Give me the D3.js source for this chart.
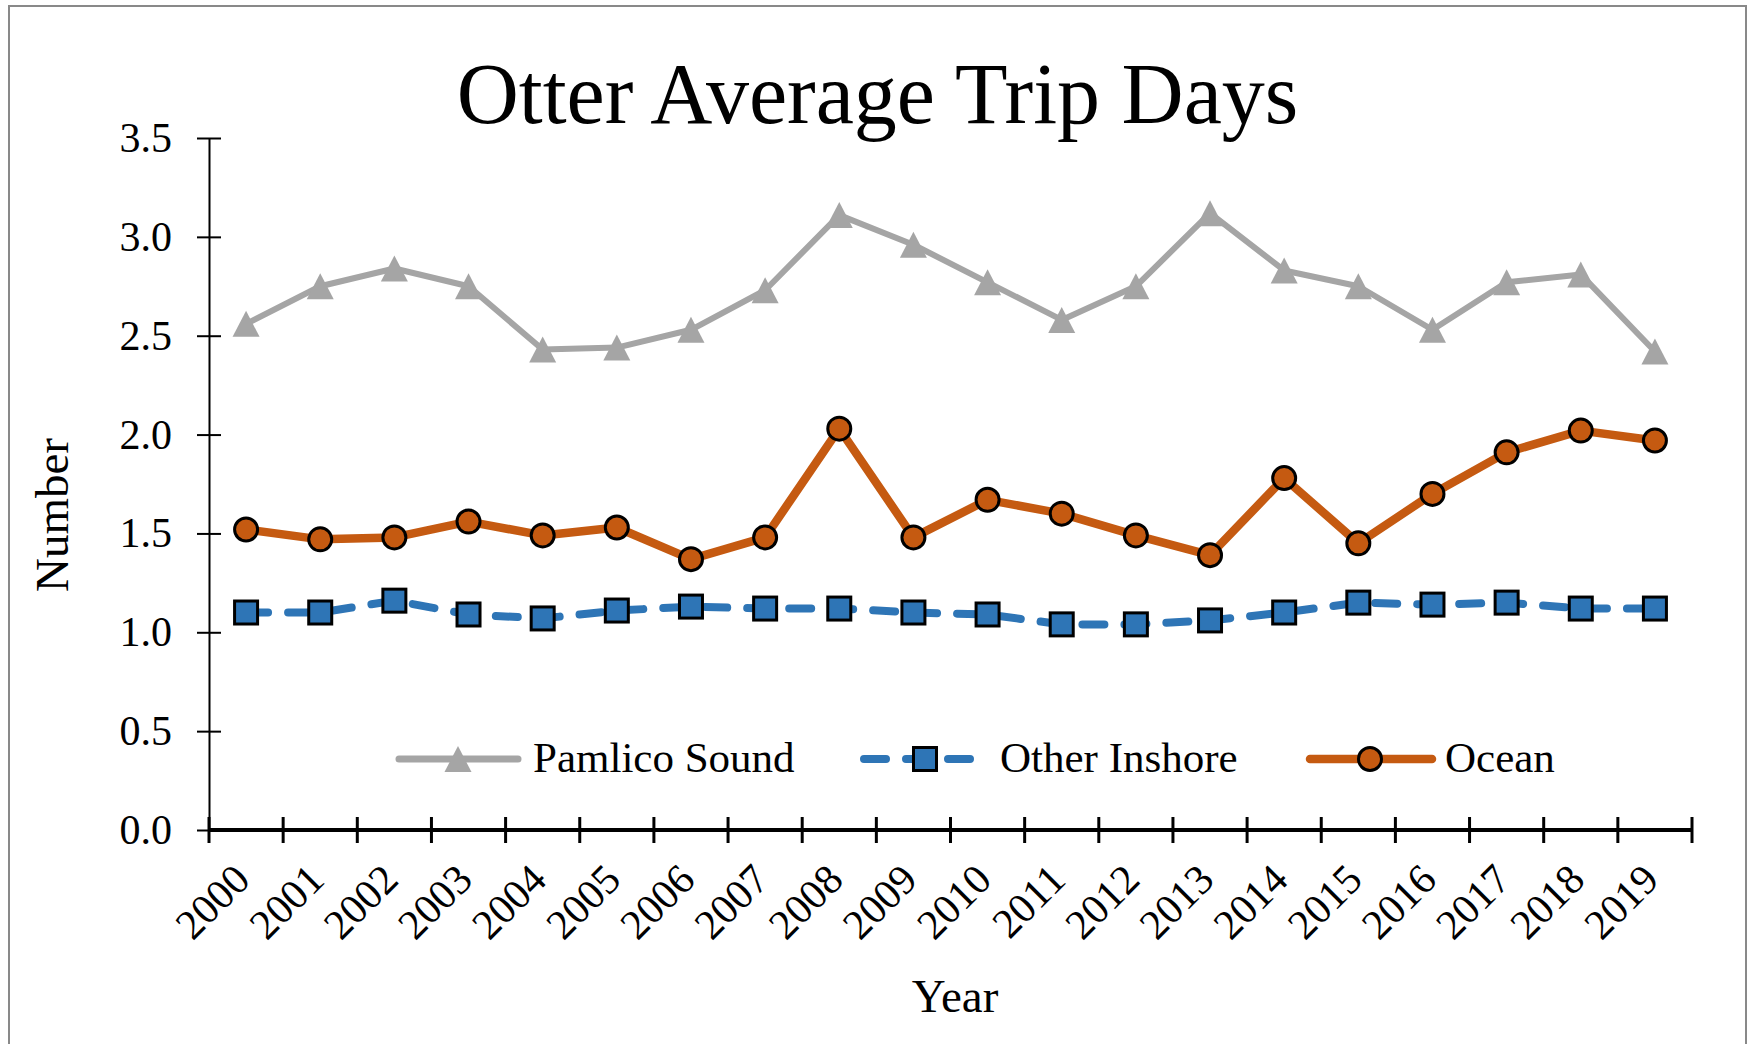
<!DOCTYPE html>
<html>
<head>
<meta charset="utf-8">
<script src="https://d3js.org/d3.v7.min.js"></script>
<style>
  body { margin: 0; background: #fff; }
  svg { display: block; }
</style>
</head>
<body>
<svg id="chart" width="1753" height="1044"></svg>

<script>
// Data
const years = ["2000","2001","2002","2003","2004","2005","2006","2007","2008","2009",
               "2010","2011","2012","2013","2014","2015","2016","2017","2018","2019"];

const pamlico = [2.56, 2.75, 2.84, 2.75, 2.43, 2.44, 2.53, 2.73, 3.11, 2.96,
                 2.77, 2.58, 2.75, 3.12, 2.83, 2.75, 2.53, 2.77, 2.81, 2.42];

const otherInshore = [1.10, 1.10, 1.16, 1.09, 1.07, 1.11, 1.13, 1.12, 1.12, 1.10,
                      1.09, 1.04, 1.04, 1.06, 1.10, 1.15, 1.14, 1.15, 1.12, 1.12];

const ocean = [1.52, 1.47, 1.48, 1.56, 1.49, 1.53, 1.37, 1.48, 2.03, 1.48,
               1.67, 1.60, 1.49, 1.39, 1.78, 1.45, 1.70, 1.91, 2.02, 1.97];

const yTicks = [0, 0.5, 1.0, 1.5, 2.0, 2.5, 3.0, 3.5];
const seriesNames = ["Pamlico Sound", "Other Inshore", "Ocean"];

const font = "'Liberation Serif', 'Times New Roman', serif";
const gray = "#A5A5A5", blue = "#2E75B6", orange = "#C55A11";

const svg = d3.select("#chart");

// frame
svg.append("rect")
  .attr("x", 9).attr("y", 6)
  .attr("width", 1737).attr("height", 1100)
  .attr("fill", "#fff")
  .attr("stroke", "#898989")
  .attr("stroke-width", 2);

// scales
const x = d3.scaleBand().domain(years).range([209, 1692]);
const y = d3.scaleLinear().domain([0, 3.5]).range([830, 138]);
const cx = function(d, i) { return x(years[i]) + x.bandwidth() / 2; };

// title
svg.append("text")
  .attr("x", 877.5).attr("y", 123)
  .attr("text-anchor", "middle")
  .style("font-family", font).style("font-size", "86px")
  .text("Otter Average Trip Days");

// Y axis
const yAxis = svg.append("g")
  .attr("transform", "translate(209,0)")
  .call(d3.axisLeft(y).tickValues(yTicks).tickFormat(d3.format(".1f")).tickSize(0).tickPadding(37));
yAxis.select(".domain").attr("stroke", "#000").attr("stroke-width", 2);
yAxis.selectAll(".tick")
  .append("line")
  .attr("x1", -12).attr("x2", 12)
  .attr("stroke", "#000").attr("stroke-width", 2);
yAxis.selectAll(".tick text")
  .style("font-family", font).style("font-size", "42px")
  .attr("fill", "#000");

// X axis (ticks between categories)
const xAxis = svg.append("g");
const bounds = years.map(function(yr) { return x(yr); }).concat([x.range()[1]]);
xAxis.append("line")
  .attr("x1", x.range()[0]).attr("x2", x.range()[1])
  .attr("y1", y(0)).attr("y2", y(0))
  .attr("stroke", "#000").attr("stroke-width", 4);
xAxis.selectAll(".xtick")
  .data(bounds).enter()
  .append("line")
  .attr("x1", function(d) { return d; }).attr("x2", function(d) { return d; })
  .attr("y1", y(0) - 13).attr("y2", y(0) + 13)
  .attr("stroke", "#000").attr("stroke-width", 3);
xAxis.selectAll(".xlabel")
  .data(years).enter()
  .append("text")
  .attr("transform", function(d) {
    return "translate(" + (x(d) + x.bandwidth() / 2 + 6) + "," + (y(0) + 52) + ") rotate(-45)";
  })
  .attr("text-anchor", "end")
  .style("font-family", font).style("font-size", "42px")
  .text(function(d) { return d; });

// axis titles
svg.append("text")
  .attr("transform", "translate(68,515) rotate(-90)")
  .attr("text-anchor", "middle")
  .style("font-family", font).style("font-size", "47px")
  .text("Number");

svg.append("text")
  .attr("x", 955).attr("y", 1012)
  .attr("text-anchor", "middle")
  .style("font-family", font).style("font-size", "47px")
  .text("Year");

// lines
const line = d3.line()
  .x(cx)
  .y(function(d) { return y(d); });

svg.append("path")
  .datum(pamlico)
  .attr("d", line)
  .attr("fill", "none").attr("stroke", gray)
  .attr("stroke-width", 6).attr("stroke-linejoin", "round");

svg.append("path")
  .datum(otherInshore)
  .attr("d", line)
  .attr("fill", "none").attr("stroke", blue)
  .attr("stroke-width", 8).attr("stroke-linecap", "round")
  .attr("stroke-dasharray", "22,20");

svg.append("path")
  .datum(ocean)
  .attr("d", line)
  .attr("fill", "none").attr("stroke", orange)
  .attr("stroke-width", 8.5).attr("stroke-linejoin", "round");

// markers
const tri = "M0,-13L13.5,13L-13.5,13Z";

svg.append("g").selectAll("path")
  .data(pamlico).enter()
  .append("path")
  .attr("d", tri)
  .attr("transform", function(d, i) { return "translate(" + cx(d, i) + "," + y(d) + ")"; })
  .attr("fill", gray);

svg.append("g").selectAll("rect")
  .data(otherInshore).enter()
  .append("rect")
  .attr("x", function(d, i) { return cx(d, i) - 11.5; })
  .attr("y", function(d) { return y(d) - 11.5; })
  .attr("width", 23).attr("height", 23)
  .attr("fill", blue).attr("stroke", "#000").attr("stroke-width", 3);

svg.append("g").selectAll("circle")
  .data(ocean).enter()
  .append("circle")
  .attr("cx", cx)
  .attr("cy", function(d) { return y(d); })
  .attr("r", 11.5)
  .attr("fill", orange).attr("stroke", "#000").attr("stroke-width", 3);

// legend
const legY = 759;
const leg = svg.append("g");

// Pamlico Sound
leg.append("line").attr("x1", 399).attr("x2", 518).attr("y1", legY).attr("y2", legY)
  .attr("stroke", gray).attr("stroke-width", 7).attr("stroke-linecap", "round");
leg.append("path").attr("d", tri).attr("transform", "translate(458," + legY + ")").attr("fill", gray);
leg.append("text").attr("x", 533).attr("y", legY + 13)
  .style("font-family", font).style("font-size", "43px").text(seriesNames[0]);

// Other Inshore
leg.append("line").attr("x1", 864).attr("x2", 974).attr("y1", legY).attr("y2", legY)
  .attr("stroke", blue).attr("stroke-width", 8).attr("stroke-linecap", "round")
  .attr("stroke-dasharray", "22,20");
leg.append("rect").attr("x", 925 - 11.5).attr("y", legY - 11.5).attr("width", 23).attr("height", 23)
  .attr("fill", blue).attr("stroke", "#000").attr("stroke-width", 3);
leg.append("text").attr("x", 1000).attr("y", legY + 13)
  .style("font-family", font).style("font-size", "43px").text(seriesNames[1]);

// Ocean
leg.append("line").attr("x1", 1310).attr("x2", 1432).attr("y1", legY).attr("y2", legY)
  .attr("stroke", orange).attr("stroke-width", 8.5).attr("stroke-linecap", "round");
leg.append("circle").attr("cx", 1370).attr("cy", legY).attr("r", 11.5)
  .attr("fill", orange).attr("stroke", "#000").attr("stroke-width", 3);
leg.append("text").attr("x", 1445).attr("y", legY + 13)
  .style("font-family", font).style("font-size", "43px").text(seriesNames[2]);
</script>
</body>
</html>
